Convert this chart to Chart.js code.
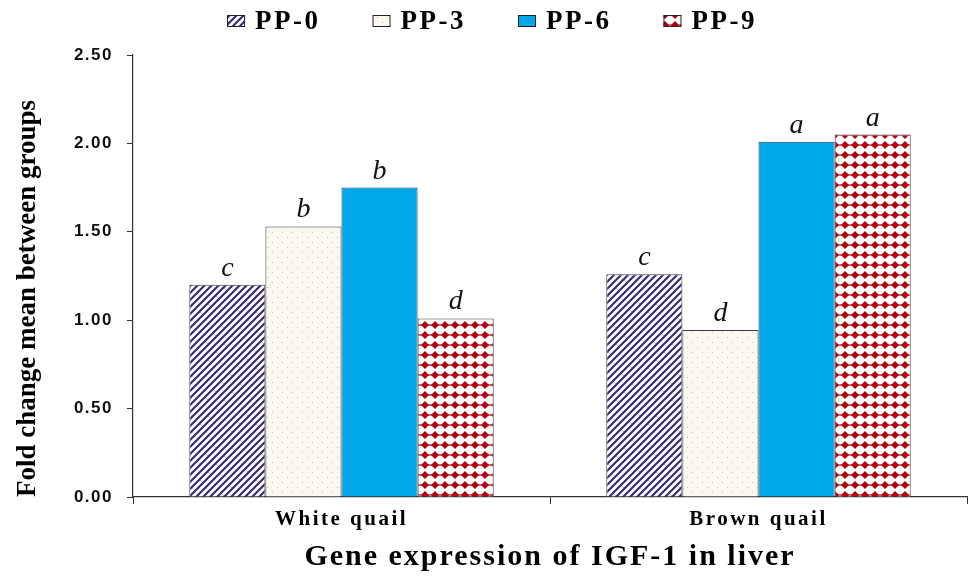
<!DOCTYPE html>
<html>
<head>
<meta charset="utf-8">
<script src="https://cdn.jsdelivr.net/npm/chart.js@4.4.1/dist/chart.umd.min.js"></script>
<style>
  html, body { margin: 0; padding: 0; background: #ffffff; }
  #wrap { width: 972px; height: 576px; position: relative; }
</style>
</head>
<body>
<div id="wrap"><canvas id="c" width="972" height="576"></canvas></div>
<script>
// ---- data ----
const categories = ['White quail', 'Brown quail'];
const seriesLabels = ['PP-0', 'PP-3', 'PP-6', 'PP-9'];
const pp0 = [1.20, 1.26];
const pp3 = [1.53, 0.945];
const pp6 = [1.75, 2.01];
const pp9 = [1.01, 2.05];
const sig0 = ['c', 'c'];
const sig3 = ['b', 'd'];
const sig6 = ['b', 'a'];
const sig9 = ['d', 'a'];
const yMax = 2.5;
const yStep = 0.5;
const yTitle = 'Fold change mean between groups';
const xTitle = 'Gene expression of IGF-1 in liver';

// ---- patterns ----
function tile(w, h, draw) {
  const cv = document.createElement('canvas');
  cv.width = w; cv.height = h;
  const g = cv.getContext('2d');
  draw(g, w, h);
  return g.createPattern(cv, 'repeat');
}
const patStripes = tile(7, 7, (g, w, h) => {
  g.fillStyle = '#ffffff'; g.fillRect(0, 0, w, h);
  g.strokeStyle = '#3b2a7c'; g.lineWidth = 2.2;
  g.beginPath();
  g.moveTo(-1, h + 1); g.lineTo(w + 1, -1);
  g.moveTo(-2, 2); g.lineTo(2, -2);
  g.moveTo(w - 2, h + 2); g.lineTo(w + 2, h - 2);
  g.stroke();
});
const patDots = tile(10, 10, (g, w, h) => {
  g.fillStyle = '#faf8f1'; g.fillRect(0, 0, w, h);
  g.fillStyle = '#bdbdb5';
  g.fillRect(2, 2, 1, 1);
  g.fillRect(7, 7, 1, 1);
});
const patDiamond = tile(10, 10, (g, w, h) => {
  g.fillStyle = '#ffffff'; g.fillRect(0, 0, w, h);
  g.fillStyle = '#b0000f';
  g.beginPath();
  g.moveTo(5, 1); g.lineTo(9, 5); g.lineTo(5, 9); g.lineTo(1, 5); g.closePath();
  g.fill();
  g.fillRect(0, 4.4, w, 1.2);
});
const solidBlue = '#00a8ea';

const fills = [patStripes, patDots, solidBlue, patDiamond];

// ---- helpers ----
function spaced(scale, labelSp, titleSp) {
  if (scale.$sp) return;
  scale.$sp = true;
  const dl = scale.drawLabels.bind(scale);
  const dt = scale.drawTitle.bind(scale);
  scale.drawLabels = function (ca) {
    const c = this.ctx; const p = c.letterSpacing;
    c.letterSpacing = labelSp; dl(ca); c.letterSpacing = p;
  };
  scale.drawTitle = function () {
    const c = this.ctx; const p = c.letterSpacing;
    c.letterSpacing = titleSp; dt(); c.letterSpacing = p;
  };
}

const sigPlugin = {
  id: 'sigLetters',
  afterDatasetsDraw(chart) {
    const ctx = chart.ctx;
    ctx.save();
    ctx.font = 'italic 28px "Liberation Serif", "Times New Roman", serif';
    ctx.fillStyle = '#111111';
    ctx.textAlign = 'center';
    ctx.textBaseline = 'alphabetic';
    chart.data.datasets.forEach((ds, i) => {
      const meta = chart.getDatasetMeta(i);
      meta.data.forEach((bar, j) => {
        ctx.fillText(ds.sig[j], bar.x, bar.y - 9);
      });
    });
    ctx.restore();
  }
};

const legendPlugin = {
  id: 'customLegend',
  afterDraw(chart) {
    const ctx = chart.ctx;
    ctx.save();
    ctx.font = 'bold 27px "Liberation Serif", "Times New Roman", serif';
    ctx.letterSpacing = '2.5px';
    ctx.textBaseline = 'middle';
    ctx.textAlign = 'left';
    const boxW = 18, boxH = 12, gapBox = 10, gapItem = 52;
    const items = chart.data.datasets.map(ds => ({ ds, w: boxW + gapBox + ctx.measureText(ds.label).width }));
    const total = items.reduce((s, it) => s + it.w, 0) + gapItem * (items.length - 1);
    let x = 492 - total / 2;
    const cy = 21;
    items.forEach(it => {
      ctx.fillStyle = it.ds.backgroundColor;
      ctx.fillRect(x, cy - boxH / 2, boxW, boxH);
      ctx.strokeStyle = '#222222';
      ctx.lineWidth = 1;
      ctx.strokeRect(x + 0.5, cy - boxH / 2 + 0.5, boxW - 1, boxH - 1);
      ctx.fillStyle = '#000000';
      ctx.fillText(it.ds.label, x + boxW + gapBox, cy + 1);
      x += it.w + gapItem;
    });
    ctx.restore();
  }
};

const seriesValues = [pp0, pp3, pp6, pp9];
const seriesSig = [sig0, sig3, sig6, sig9];

new Chart(document.getElementById('c'), {
  type: 'bar',
  data: {
    labels: categories,
    datasets: seriesLabels.map((lab, i) => ({
      label: lab,
      data: seriesValues[i],
      sig: seriesSig[i],
      backgroundColor: fills[i],
      borderColor: i === 2 ? '#1f3550' : '#3a3a3a',
      borderWidth: 1,
      categoryPercentage: 0.73,
      barPercentage: 1.0
    }))
  },
  options: {
    responsive: false,
    animation: false,
    devicePixelRatio: 1,
    layout: { padding: { top: 55, right: 5, left: 0, bottom: 0 } },
    plugins: {
      legend: { display: false },
      tooltip: { enabled: false },
      title: { display: false }
    },
    scales: {
      x: {
        offset: true,
        grid: {
          display: true,
          offset: true,
          drawOnChartArea: false,
          drawTicks: true,
          tickLength: 7,
          color: '#333333',
          lineWidth: 1
        },
        border: { display: true, color: '#333333', width: 1.2 },
        ticks: {
          color: '#000000',
          padding: 3,
          font: { family: '"Liberation Serif", "Times New Roman", serif', size: 21, weight: 'bold' }
        },
        title: {
          display: true,
          text: xTitle,
          color: '#000000',
          padding: { top: 0, bottom: 1 },
          font: { family: '"Liberation Serif", "Times New Roman", serif', size: 30, weight: 'bold' }
        },
        afterFit: s => { s.height = 79; },
        afterUpdate: s => spaced(s, '2.5px', '2px')
      },
      y: {
        min: 0,
        max: yMax,
        grid: {
          display: true,
          drawOnChartArea: false,
          drawTicks: true,
          tickLength: 6,
          color: '#333333',
          lineWidth: 1
        },
        border: { display: true, color: '#333333', width: 1.2 },
        ticks: {
          stepSize: yStep,
          color: '#111111',
          padding: 14,
          font: { family: '"Liberation Sans", Arial, sans-serif', size: 17, weight: 'bold' },
          callback: v => Number(v).toFixed(2)
        },
        title: {
          display: true,
          text: yTitle,
          align: 'start',
          color: '#000000',
          padding: { top: 12, bottom: 0 },
          font: { family: '"Liberation Serif", "Times New Roman", serif', size: 27, weight: 'bold' }
        },
        afterFit: s => { s.width = 133; },
        afterUpdate: s => spaced(s, '1.5px', '0px')
      }
    }
  },
  plugins: [sigPlugin, legendPlugin]
});
</script>
</body>
</html>
